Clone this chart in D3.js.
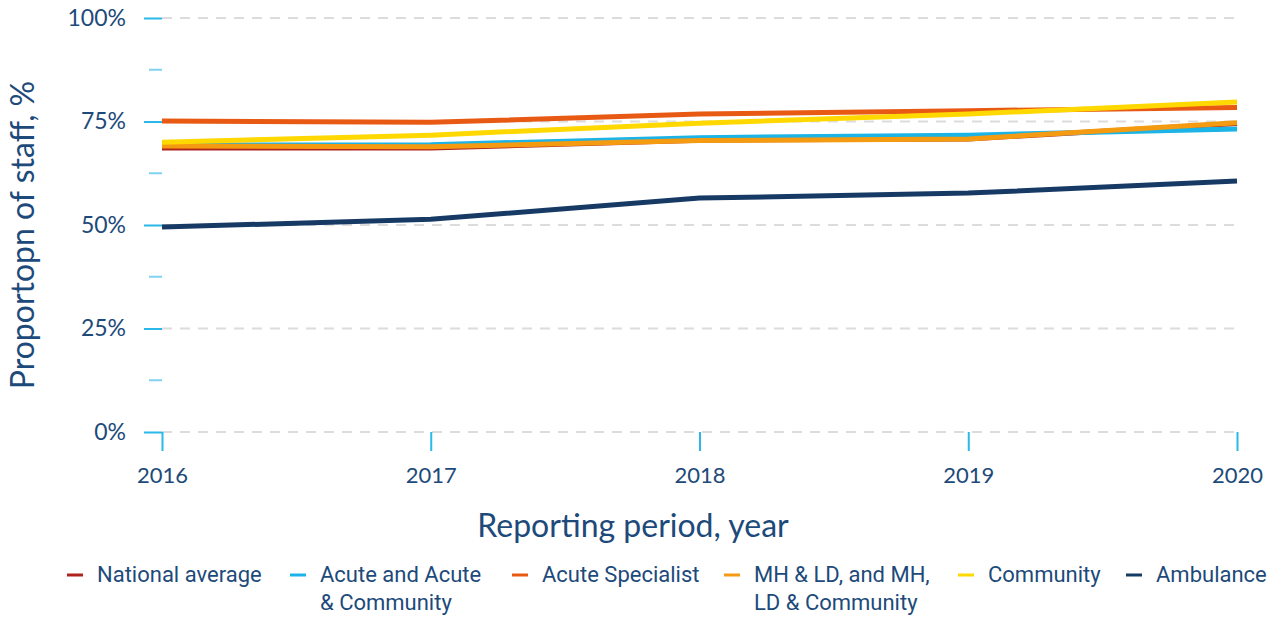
<!DOCTYPE html>
<html>
<head>
<meta charset="utf-8">
<script src="https://cdn.jsdelivr.net/npm/d3@7"></script>
<style>
  body { margin: 0; background: #fff; }
  svg { display: block; }
</style>
</head>
<body>
<div id="chart"></div>
<script>
// Data
const years = [2016, 2017, 2018, 2019, 2020];
const nationalAverage = [68.6, 68.6, 70.5, 70.8, 74.5];
const acuteCommunity = [69.3, 69.4, 71.1, 71.7, 73.2];
const acuteSpecialist = [75.1, 74.8, 76.8, 77.6, 78.4];
const mhLdCommunity = [69.1, 68.9, 70.4, 70.8, 74.7];
const community = [70.0, 71.7, 74.6, 76.8, 79.7];
const ambulance = [49.5, 51.4, 56.5, 57.7, 60.6];

const seriesNames = ["National average", "Acute and Acute|& Community", "Acute Specialist",
  "MH & LD, and MH,|LD & Community", "Community", "Ambulance"];
const seriesColors = ["#b0231c", "#1cb3e6", "#e85a14", "#f49b12", "#ffd800", "#173a65"];
const seriesValues = [nationalAverage, acuteCommunity, acuteSpecialist, mhLdCommunity, community, ambulance];

const majorTicks = [0, 25, 50, 75, 100];
const minorTicks = [12.5, 37.5, 62.5, 87.5];

const width = 1273, height = 617;
const textColor = "#1d4a7a";
const axisColor = "#29b8e8";

const svg = d3.select("#chart").append("svg")
  .attr("width", width)
  .attr("height", height);

const x = d3.scalePoint().domain(years).range([162, 1237]);
const y = d3.scaleLinear().domain([0, 100]).range([432, 18]);

// gridlines
svg.append("g")
  .selectAll("line")
  .data(majorTicks)
  .join("line")
  .attr("x1", 162)
  .attr("x2", 1237)
  .attr("y1", d => y(d))
  .attr("y2", d => y(d))
  .attr("stroke", "#dcdcdc")
  .attr("stroke-width", 2)
  .attr("stroke-dasharray", "10,8");

// y axis
const yAxis = svg.append("g")
  .attr("transform", "translate(162,0)")
  .call(d3.axisLeft(y).tickValues(majorTicks).tickSize(18).tickPadding(18)
    .tickFormat(d => d + "%"));
yAxis.select(".domain").remove();
yAxis.selectAll(".tick line").attr("stroke", axisColor).attr("stroke-width", 2);
yAxis.selectAll(".tick text")
  .attr("fill", textColor)
  .attr("font-family", "Lato, sans-serif")
  .attr("font-size", 23);

svg.append("g")
  .selectAll("line")
  .data(minorTicks)
  .join("line")
  .attr("x1", 149)
  .attr("x2", 162)
  .attr("y1", d => y(d))
  .attr("y2", d => y(d))
  .attr("stroke", "#7fd3f0")
  .attr("stroke-width", 2);

// x axis
const xAxis = svg.append("g")
  .attr("transform", "translate(0,432)")
  .call(d3.axisBottom(x).tickSize(19).tickPadding(16));
xAxis.select(".domain").remove();
xAxis.selectAll(".tick line").attr("stroke", axisColor).attr("stroke-width", 2);
xAxis.selectAll(".tick text")
  .attr("fill", textColor)
  .attr("font-family", "Lato, sans-serif")
  .attr("font-size", 22);

// axis titles
svg.append("text")
  .attr("transform", "translate(34,235) rotate(-90)")
  .attr("text-anchor", "middle")
  .attr("fill", textColor)
  .attr("font-family", "Lato, sans-serif")
  .attr("font-size", 32)
  .text("Proportopn of staff, %");

svg.append("text")
  .attr("x", 633)
  .attr("y", 537)
  .attr("text-anchor", "middle")
  .attr("fill", textColor)
  .attr("font-family", "Lato, sans-serif")
  .attr("font-size", 32)
  .text("Reporting period, year");

// lines
const line = d3.line()
  .x((d, i) => x(years[i]))
  .y(d => y(d));

svg.append("g")
  .selectAll("path")
  .data(seriesValues)
  .join("path")
  .attr("d", line)
  .attr("fill", "none")
  .attr("stroke", (d, i) => seriesColors[i])
  .attr("stroke-width", 5);

// legend
const legendX = [67, 290, 512, 724, 958, 1126];
const legend = svg.append("g");
seriesNames.forEach((name, i) => {
  const g = legend.append("g").attr("transform", `translate(${legendX[i]},575)`);
  g.append("line")
    .attr("x1", 0).attr("x2", 16)
    .attr("stroke", seriesColors[i])
    .attr("stroke-width", 3);
  const t = g.append("text")
    .attr("x", 30)
    .attr("y", 7)
    .attr("fill", textColor)
    .attr("font-family", "'Liberation Sans Narrow', 'Roboto', sans-serif")
    .attr("font-size", 22);
  name.split("|").forEach((part, j) => {
    t.append("tspan").attr("x", 30).attr("dy", j === 0 ? 0 : 28).text(part);
  });
});
</script>
</body>
</html>
